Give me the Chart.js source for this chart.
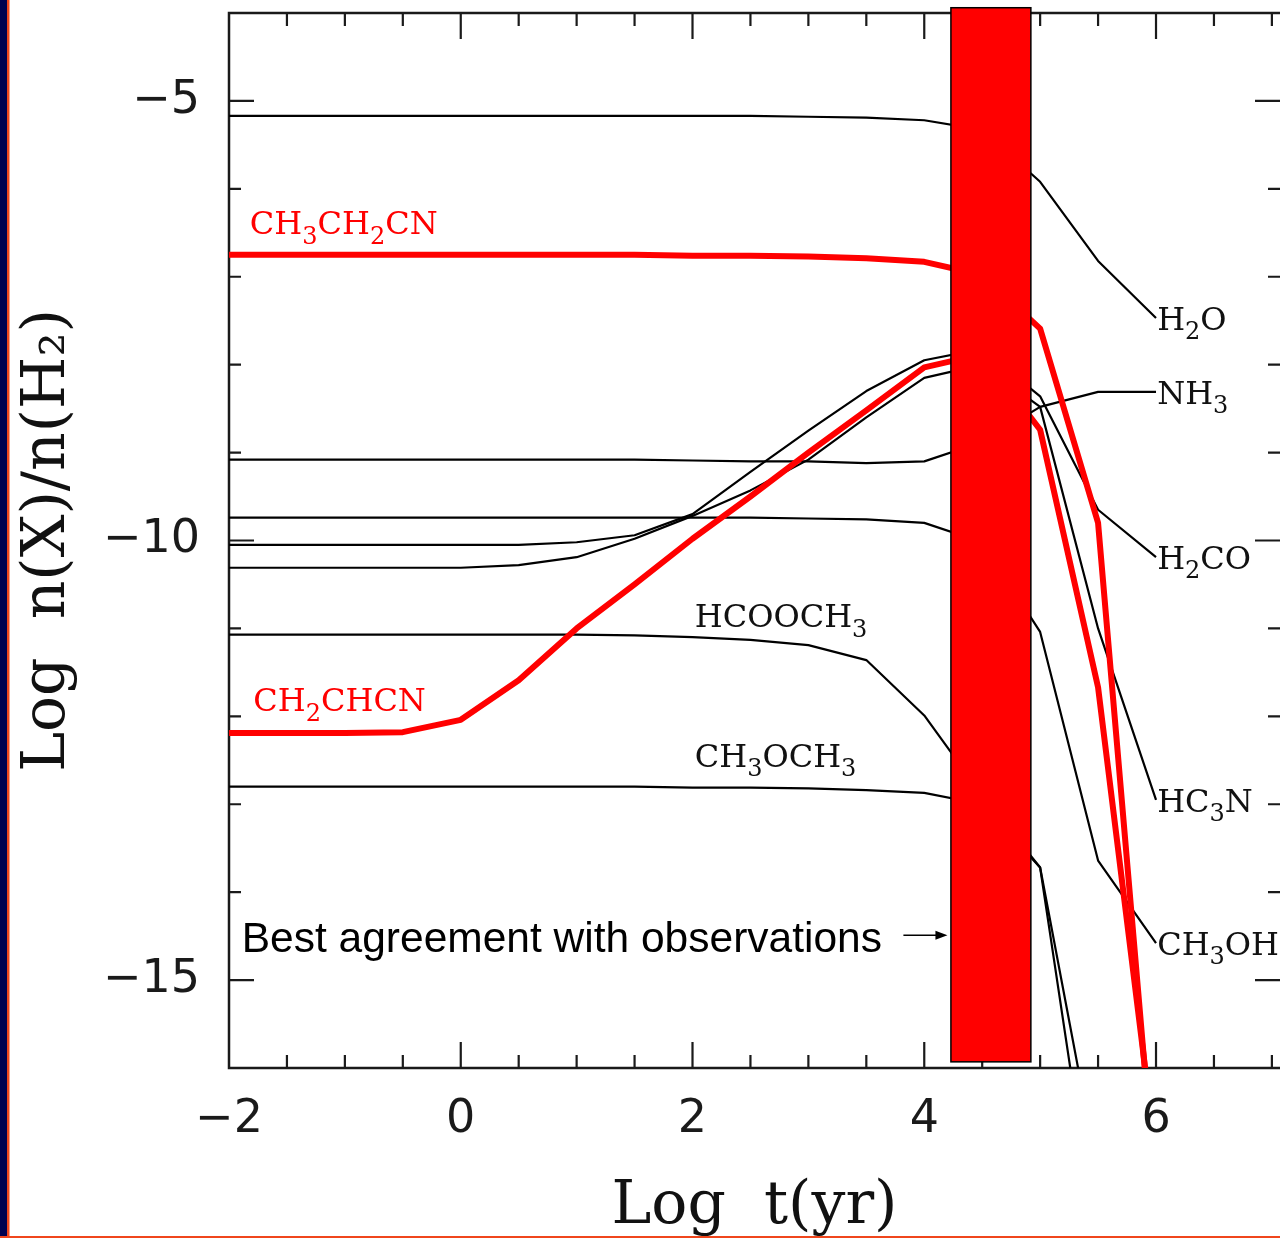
<!DOCTYPE html>
<html>
<head>
<meta charset="utf-8">
<title>Log n(X)/n(H2) vs Log t(yr)</title>
<script src="https://cdn.jsdelivr.net/npm/chart.js@4.4.1/dist/chart.umd.min.js"></script>
<style>
  html, body { margin: 0; padding: 0; background: #fff; }
  canvas { display: block; }
</style>
</head>
<body>
<canvas id="chart" width="1280" height="1238"></canvas>
<script>
// Model time grid, log t (yr)
const logTime = [-2, -1.5, -1, -0.5, 0, 0.5, 1, 1.5, 2, 2.5, 3, 3.5, 4, 4.5, 5, 5.5, 6];

// Log abundances relative to H2
const ch3ch2cn = [-6.75, -6.75, -6.75, -6.75, -6.75, -6.75, -6.75, -6.75, -6.76, -6.76, -6.77, -6.79, -6.83, -6.98, -7.59, -9.8, -17.5];
const ch2chcn  = [-12.19, -12.19, -12.19, -12.18, -12.04, -11.59, -11.0, -10.5, -9.98, -9.5, -9.0, -8.52, -8.03, -7.88, -8.74, -11.67, -17.0];
const h2o      = [-5.17, -5.17, -5.17, -5.17, -5.17, -5.17, -5.17, -5.17, -5.17, -5.17, -5.18, -5.19, -5.22, -5.33, -5.92, -6.82, -7.47];
const nh3      = [-9.08, -9.08, -9.08, -9.08, -9.08, -9.08, -9.08, -9.08, -9.09, -9.1, -9.1, -9.12, -9.1, -8.88, -8.48, -8.31, -8.31];
const h2co     = [-10.05, -10.05, -10.05, -10.05, -10.05, -10.05, -10.02, -9.94, -9.7, -9.22, -8.75, -8.3, -7.95, -7.82, -8.36, -9.65, -10.19];
const hc3n     = [-10.31, -10.31, -10.31, -10.31, -10.31, -10.28, -10.19, -9.98, -9.72, -9.43, -9.08, -8.6, -8.15, -8.0, -8.48, -11.0, -12.95];
const ch3oh    = [-9.74, -9.74, -9.74, -9.74, -9.74, -9.74, -9.74, -9.74, -9.74, -9.74, -9.75, -9.76, -9.8, -10.02, -11.04, -13.64, -14.58];
const hcooch3  = [-11.07, -11.07, -11.07, -11.07, -11.07, -11.07, -11.07, -11.08, -11.1, -11.13, -11.19, -11.36, -11.99, -12.9, -13.72, -18.1, -19.0];
const ch3och3  = [-12.8, -12.8, -12.8, -12.8, -12.8, -12.8, -12.8, -12.8, -12.81, -12.81, -12.82, -12.84, -12.87, -13.0, -13.72, -17.2, -18.5];

// Axis ticks
const xTickValues = [-2, 0, 2, 4, 6];
const yTickValues = [-15, -10, -5];

// Time range that best matches the observations (red band)
const bestFitTime = [4.23, 4.92];
const bestFitAbund = [-15.93, -3.94];

// Curve labels, anchored at data coordinates
const curveLabels = [
    { text: 'H2O',      x: 6.01,  y: -7.47,  color: '#111' },
    { text: 'NH3',      x: 6.01,  y: -8.31,  color: '#111' },
    { text: 'H2CO',     x: 6.01,  y: -10.19, color: '#111' },
    { text: 'HC3N',     x: 6.01,  y: -12.95, color: '#111' },
    { text: 'CH3OH',    x: 6.01,  y: -14.58, color: '#111' },
    { text: 'HCOOCH3',  x: 2.02,  y: -10.85, color: '#111' },
    { text: 'CH3OCH3',  x: 2.02,  y: -12.44, color: '#111' },
    { text: 'CH3CH2CN', x: -1.82, y: -6.38,  color: '#f00' },
    { text: 'CH2CHCN',  x: -1.79, y: -11.81, color: '#f00' }
];

function series(values, color, width) {
    return {
        data: logTime.map((t, i) => ({ x: t, y: values[i] })),
        showLine: true,
        borderColor: color,
        borderWidth: width,
        borderJoinStyle: 'round',
        pointRadius: 0,
        tension: 0,
        fill: false
    };
}

// Chemical formula with subscripted digits
function drawFormula(ctx, text, x, yMid, size, color) {
    const parts = text.match(/[A-Za-z()]+|\d+/g);
    const base = yMid + size * 0.365;
    let cx = x;
    ctx.fillStyle = color;
    ctx.textAlign = 'left';
    ctx.textBaseline = 'alphabetic';
    parts.forEach(p => {
        const sub = /^\d/.test(p);
        ctx.font = (sub ? Math.round(size * 0.75) : size) + 'px "DejaVu Serif"';
        ctx.fillText(p, cx, sub ? base + size * 0.3 : base);
        cx += ctx.measureText(p).width;
    });
}

const minus = v => (v < 0 ? '\u2212' + Math.abs(v) : String(v));

const framePlugin = {
    id: 'frame',
    beforeDraw(chart) {
        const ctx = chart.ctx;
        ctx.save();
        ctx.fillStyle = '#fff';
        ctx.fillRect(0, 0, chart.width, chart.height);
        // slide border
        ctx.fillStyle = '#00004f';
        ctx.fillRect(0, 0, 7, chart.height);
        ctx.fillStyle = '#f0461c';
        ctx.fillRect(7, 0, 2.5, chart.height);
        ctx.fillRect(0, chart.height - 2, chart.width, 2);
        ctx.restore();
    },
    beforeDatasetsDraw(chart) {
        const { ctx, chartArea: a, scales: { x, y } } = chart;
        ctx.save();
        ctx.strokeStyle = '#1a1a1a';
        ctx.lineWidth = 2.5;
        ctx.beginPath();
        ctx.moveTo(a.right, a.top);
        ctx.lineTo(a.left, a.top);
        ctx.lineTo(a.left, a.bottom);
        ctx.lineTo(a.right, a.bottom);
        ctx.stroke();

        // inward ticks on all four sides
        ctx.lineWidth = 2.2;
        ctx.beginPath();
        for (let v = -1.5; v <= x.max; v += 0.5) {
            const px = x.getPixelForValue(v);
            const len = v % 2 === 0 ? 26 : 13;
            ctx.moveTo(px, a.bottom);
            ctx.lineTo(px, a.bottom - len);
            ctx.moveTo(px, a.top);
            ctx.lineTo(px, a.top + len);
        }
        for (let v = -15; v <= -5; v += 1) {
            const py = y.getPixelForValue(v);
            const len = v % 5 === 0 ? 25 : 12;
            ctx.moveTo(a.left, py);
            ctx.lineTo(a.left + len, py);
            ctx.moveTo(a.right, py);
            ctx.lineTo(a.right - len, py);
        }
        ctx.stroke();
        ctx.restore();
    },
    afterDatasetsDraw(chart) {
        const { ctx, scales: { x, y } } = chart;
        ctx.save();
        curveLabels.forEach(l => {
            drawFormula(ctx, l.text, x.getPixelForValue(l.x), y.getPixelForValue(l.y), 32, l.color);
        });

        // best agreement band
        const x0 = x.getPixelForValue(bestFitTime[0]);
        const x1 = x.getPixelForValue(bestFitTime[1]);
        const y0 = y.getPixelForValue(bestFitAbund[1]);
        const y1 = y.getPixelForValue(bestFitAbund[0]);
        ctx.fillStyle = '#ff0000';
        ctx.fillRect(x0, y0, x1 - x0, y1 - y0);
        ctx.strokeStyle = '#000';
        ctx.lineWidth = 1.5;
        ctx.strokeRect(x0, y0, x1 - x0, y1 - y0);

        // annotation with arrow
        ctx.fillStyle = '#000';
        ctx.font = '42.5px "Liberation Sans"';
        ctx.textAlign = 'left';
        ctx.textBaseline = 'middle';
        ctx.fillText('Best agreement with observations', x.getPixelForValue(-1.89), y.getPixelForValue(-14.55));
        const ay = y.getPixelForValue(-14.49);
        const ax0 = x.getPixelForValue(3.82);
        const ax1 = x.getPixelForValue(4.2);
        ctx.lineWidth = 1.5;
        ctx.beginPath();
        ctx.moveTo(ax0, ay);
        ctx.lineTo(ax1 - 8, ay);
        ctx.stroke();
        ctx.beginPath();
        ctx.moveTo(ax1, ay);
        ctx.lineTo(ax1 - 12, ay - 4.5);
        ctx.lineTo(ax1 - 12, ay + 4.5);
        ctx.closePath();
        ctx.fill();
        ctx.restore();
    }
};

function zeroPadding(s) {
    s.paddingTop = 0;
    s.paddingBottom = 0;
    s.paddingLeft = 0;
    s.paddingRight = 0;
}

new Chart(document.getElementById('chart'), {
    type: 'scatter',
    data: {
        datasets: [
            series(ch3ch2cn, '#ff0000', 6),
            series(ch2chcn, '#ff0000', 6),
            series(h2o, '#000', 2.2),
            series(nh3, '#000', 2.2),
            series(h2co, '#000', 2.2),
            series(hc3n, '#000', 2.2),
            series(ch3oh, '#000', 2.2),
            series(hcooch3, '#000', 2.2),
            series(ch3och3, '#000', 2.2)
        ]
    },
    options: {
        responsive: false,
        animation: false,
        devicePixelRatio: 1,
        layout: { padding: { top: 13, right: 0, bottom: 0, left: 0 } },
        plugins: { legend: { display: false }, tooltip: { enabled: false } },
        scales: {
            x: {
                type: 'linear',
                min: -2,
                max: 7.07,
                grid: { display: false, drawTicks: false },
                border: { display: false },
                afterBuildTicks: s => { s.ticks = xTickValues.map(v => ({ value: v })); },
                afterFit: s => { s.height = 170; zeroPadding(s); },
                ticks: {
                    autoSkip: false,
                    maxRotation: 0,
                    padding: 29,
                    color: '#1a1a1a',
                    font: { family: 'DejaVu Sans', size: 46, lineHeight: 1 },
                    callback: minus
                },
                title: {
                    display: true,
                    text: 'Log  t(yr)',
                    color: '#111',
                    font: { family: 'DejaVu Serif', size: 60, lineHeight: 1 },
                    padding: { top: 0, bottom: 1 }
                }
            },
            y: {
                type: 'linear',
                min: -16,
                max: -4,
                grid: { display: false, drawTicks: false },
                border: { display: false },
                afterBuildTicks: s => { s.ticks = yTickValues.map(v => ({ value: v })); },
                afterFit: s => { s.width = 229; zeroPadding(s); },
                ticks: {
                    padding: 29,
                    color: '#1a1a1a',
                    font: { family: 'DejaVu Sans', size: 46, lineHeight: 1 },
                    callback: minus
                },
                title: {
                    display: true,
                    text: 'Log  n(X)/n(H\u2082)',
                    color: '#111',
                    font: { family: 'DejaVu Serif', size: 60, lineHeight: 1 },
                    padding: { top: 18, bottom: 0 }
                }
            }
        }
    },
    plugins: [framePlugin]
});
</script>
</body>
</html>
